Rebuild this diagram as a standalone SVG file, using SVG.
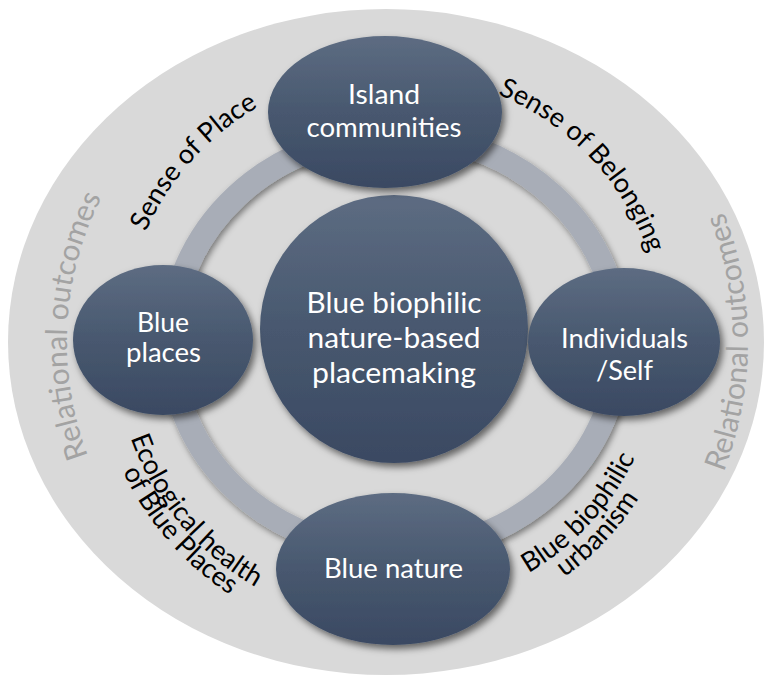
<svg xmlns="http://www.w3.org/2000/svg" width="764" height="679" viewBox="0 0 764 679">
<defs>
  <linearGradient id="nodeGrad" x1="0" y1="0" x2="0" y2="1">
    <stop offset="0" stop-color="#5d6c82"/>
    <stop offset="0.5" stop-color="#48586f"/>
    <stop offset="1" stop-color="#3a4962"/>
  </linearGradient>
  <filter id="shadow" x="-20%" y="-20%" width="145%" height="145%">
    <feDropShadow dx="3" dy="4" stdDeviation="3.5" flood-color="#000" flood-opacity="0.55"/>
  </filter>
  <filter id="ringShadow" x="-10%" y="-10%" width="120%" height="120%">
    <feDropShadow dx="2" dy="3" stdDeviation="3" flood-color="#000" flood-opacity="0.45"/>
  </filter>
  <path id="pPlace" d="M124.7,381.0 A273,273 0 0 1 404.5,70.2"/>
  <path id="pBelong" d="M378.6,74.5 A269,269 0 0 1 662.3,373.5"/>
  <path id="pEco1" d="M118.3,294.2 A281,281 0 0 0 395,624"/>
  <path id="pEco2" d="M97.7,296.0 A301,301 0 0 0 400.3,644.0"/>
  <path id="pUrb1" d="M382.5,608.7 A266,266 0 0 0 658.8,309.2"/>
  <path id="pUrb2" d="M378.4,631.5 A289,289 0 0 0 682.0,309.3"/>
  <path id="pRelL" d="M168.4,575.3 A319,319 0 0 1 194.0,87.2"/>
  <path id="pRelR" d="M618.7,619.3 A362,362 0 0 0 618.7,64.7"/>
</defs>
<style>
  .node { fill: url(#nodeGrad); filter: url(#shadow); }
  .nt { font-family: Lato, "Noto Sans", sans-serif; fill: #ffffff; text-anchor: middle; font-size: 26px; }
  .ct { font-size: 28.5px; }
  .lbl { font-family: Lato, "Noto Sans", sans-serif; fill: #000000; font-size: 27px; }
  .rel { font-family: Lato, "Noto Sans", sans-serif; fill: #a3a3a3; font-size: 30px; }
</style>

<ellipse id="outer" cx="386" cy="342" rx="378" ry="333" fill="#d9d9d9"/>

<g id="connectors">
  <ellipse cx="395" cy="343" rx="224" ry="208" fill="none" stroke="#a8adb7" stroke-width="24" filter="url(#ringShadow)"/>
</g>

<g id="center">
  <circle class="node" cx="394" cy="329" r="134"/>
  <text class="nt ct" x="394" y="313" textLength="175" lengthAdjust="spacingAndGlyphs">Blue biophilic</text>
  <text class="nt ct" x="394" y="348" textLength="173" lengthAdjust="spacingAndGlyphs">nature-based</text>
  <text class="nt ct" x="394" y="383" textLength="164" lengthAdjust="spacingAndGlyphs">placemaking</text>
</g>

<g id="island">
  <ellipse class="node" cx="385" cy="112" rx="117" ry="76"/>
  <text class="nt" x="384" y="104" textLength="72" lengthAdjust="spacingAndGlyphs">Island</text>
  <text class="nt" x="384" y="137" textLength="155" lengthAdjust="spacingAndGlyphs">communities</text>
</g>

<g id="blue-places">
  <ellipse class="node" cx="163" cy="340" rx="90" ry="75"/>
  <text class="nt" x="163" y="332" textLength="52" lengthAdjust="spacingAndGlyphs">Blue</text>
  <text class="nt" x="163.5" y="362" textLength="75" lengthAdjust="spacingAndGlyphs">places</text>
</g>

<g id="individuals">
  <ellipse class="node" cx="624" cy="342" rx="96" ry="74"/>
  <text class="nt" x="624.5" y="348" textLength="127" lengthAdjust="spacingAndGlyphs">Individuals</text>
  <text class="nt" x="624.5" y="380" textLength="57" lengthAdjust="spacingAndGlyphs">/Self</text>
</g>

<g id="blue-nature">
  <ellipse class="node" cx="393" cy="569" rx="117" ry="76"/>
  <text class="nt" x="393.5" y="578" textLength="139" lengthAdjust="spacingAndGlyphs">Blue nature</text>
</g>

<g id="labels">
  <text class="lbl"><textPath href="#pPlace" startOffset="50%" text-anchor="middle">Sense of Place</textPath></text>
  <text class="lbl"><textPath href="#pBelong" startOffset="50%" text-anchor="middle">Sense of Belonging</textPath></text>
  <text class="lbl"><textPath href="#pEco1" startOffset="50%" text-anchor="middle">Ecological health</textPath></text>
  <text class="lbl"><textPath href="#pEco2" startOffset="50%" text-anchor="middle">of Blue Places</textPath></text>
  <text class="lbl"><textPath href="#pUrb1" startOffset="50%" text-anchor="middle">Blue biophilic</textPath></text>
  <text class="lbl"><textPath href="#pUrb2" startOffset="50%" text-anchor="middle">urbanism</textPath></text>
  <text class="rel"><textPath href="#pRelL" startOffset="50%" text-anchor="middle">Relational outcomes</textPath></text>
  <text class="rel"><textPath href="#pRelR" startOffset="50%" text-anchor="middle">Relational outcomes</textPath></text>
</g>
</svg>
